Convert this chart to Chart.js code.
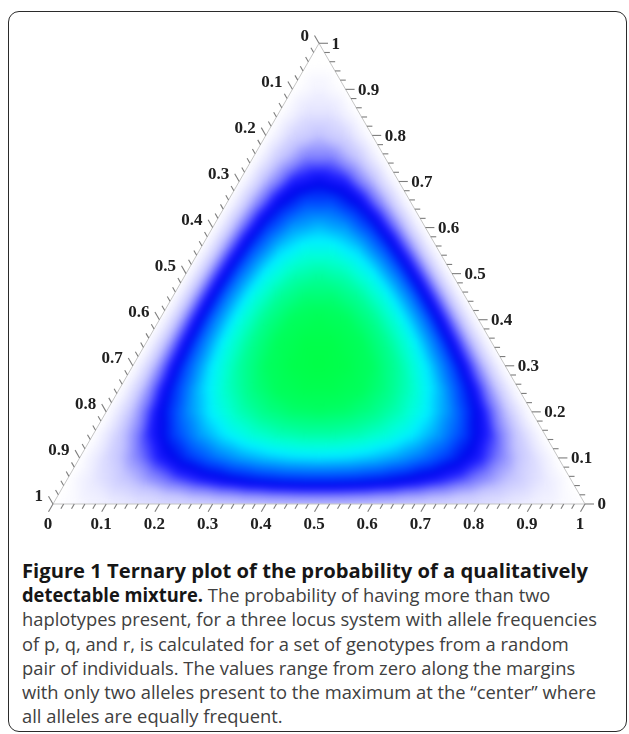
<!DOCTYPE html>
<html>
<head>
<meta charset="utf-8">
<script src="https://cdn.jsdelivr.net/npm/chart.js@4.4.1/dist/chart.umd.min.js"></script>
<style>
  html, body { margin: 0; padding: 0; background: #fff; width: 629px; height: 734px; overflow: hidden; }
  #frame { position: absolute; left: 8px; top: 11px; width: 617px; height: 719px;
           border: 1.6px solid #2b2b2b; border-radius: 11px; }
  #plot { position: absolute; left: 0; top: 0; width: 629px; height: 545px; }
  #caption { position: absolute; left: 22px; top: 559px; font-family: "Open Sans", sans-serif;
             font-size: 19px; line-height: 24.2px; color: #404040; }
  #caption .ln { display: block; white-space: nowrap; }
  #caption .ln span.t { display: inline-block; transform-origin: 0 50%; }
  #caption b { color: #161616; font-weight: 700; }
</style>
</head>
<body>
<div id="frame"></div>
<div id="plot"><canvas id="chart" width="629" height="545"></canvas></div>
<div id="caption">
  <div class="ln" id="headLine"><span class="t"><b>Figure 1 Ternary plot of the probability of a qualitatively</b></span></div>
  <div class="ln"><span class="t"><b>detectable mixture.</b> The probability of having more than two</span></div>
  <div class="ln" id="refLine"><span class="t">haplotypes present, for a three locus system with allele frequencies</span></div>
  <div class="ln"><span class="t">of p, q, and r, is calculated for a set of genotypes from a random</span></div>
  <div class="ln"><span class="t">pair of individuals. The values range from zero along the margins</span></div>
  <div class="ln"><span class="t">with only two alleles present to the maximum at the “center” where</span></div>
  <div class="ln"><span class="t">all alleles are equally frequent.</span></div>
</div>
<script>
// Probability of a detectable mixture on a ternary lattice (step 0.05).
// Row index = right-axis coordinate (0 at the base, 1 at the apex),
// position in row = bottom-axis coordinate (0 at the left side).
const STEPS = 20;
const row00 = [0,0.017,0.032,0.046,0.058,0.068,0.076,0.082,0.086,0.089,0.090,0.089,0.086,0.082,0.076,0.068,0.058,0.046,0.032,0.017,0];
const row01 = [0,0.041,0.077,0.108,0.136,0.158,0.176,0.190,0.199,0.203,0.203,0.199,0.190,0.176,0.158,0.136,0.108,0.077,0.041,0];
const row02 = [0,0.062,0.116,0.163,0.203,0.235,0.261,0.279,0.290,0.293,0.290,0.279,0.261,0.235,0.203,0.163,0.116,0.062,0];
const row03 = [0,0.080,0.150,0.209,0.259,0.299,0.329,0.349,0.359,0.359,0.349,0.329,0.299,0.259,0.209,0.150,0.080,0];
const row04 = [0,0.095,0.178,0.247,0.304,0.349,0.381,0.400,0.406,0.400,0.381,0.349,0.304,0.247,0.178,0.095,0];
const row05 = [0,0.108,0.200,0.277,0.339,0.385,0.416,0.431,0.431,0.416,0.385,0.339,0.277,0.200,0.108,0];
const row06 = [0,0.118,0.218,0.299,0.363,0.408,0.435,0.444,0.435,0.408,0.363,0.299,0.218,0.118,0];
const row07 = [0,0.125,0.229,0.313,0.375,0.417,0.438,0.438,0.417,0.375,0.313,0.229,0.125,0];
const row08 = [0,0.130,0.236,0.318,0.377,0.412,0.424,0.412,0.377,0.318,0.236,0.130,0];
const row09 = [0,0.132,0.237,0.316,0.368,0.394,0.394,0.368,0.316,0.237,0.132,0];
const row10 = [0,0.131,0.232,0.305,0.348,0.363,0.348,0.305,0.232,0.131,0];
const row11 = [0,0.127,0.222,0.286,0.317,0.317,0.286,0.222,0.127,0];
const row12 = [0,0.121,0.207,0.258,0.276,0.258,0.207,0.121,0];
const row13 = [0,0.112,0.186,0.223,0.223,0.186,0.112,0];
const row14 = [0,0.100,0.160,0.179,0.160,0.100,0];
const row15 = [0,0.085,0.128,0.128,0.085,0];
const row16 = [0,0.068,0.091,0.068,0];
const row17 = [0,0.048,0.048,0];
const row18 = [0,0.025,0];
const row19 = [0,0];
const row20 = [0];
const fieldRows = [row00,row01,row02,row03,row04,row05,row06,row07,row08,row09,row10,
                   row11,row12,row13,row14,row15,row16,row17,row18,row19,row20];

// Axis tick labels (shared by the three sides)
const tickValues = [0,0.1,0.2,0.3,0.4,0.5,0.6,0.7,0.8,0.9,1];
const tickLabels = ['0','0.1','0.2','0.3','0.4','0.5','0.6','0.7','0.8','0.9','1'];

const SQ = Math.sqrt(3) / 2;

// Colour ramp: white -> lavender -> blue -> azure -> cyan -> green
const ramp = [
  [0.000, [255,255,255]],
  [0.040, [234,234,255]],
  [0.090, [196,196,255]],
  [0.130, [120,120,255]],
  [0.160, [ 30, 30,255]],
  [0.185, [  0,  8,238]],
  [0.220, [  0, 75,255]],
  [0.265, [  0,165,255]],
  [0.300, [  0,240,255]],
  [0.330, [  0,255,215]],
  [0.370, [  0,255,150]],
  [0.410, [  0,255, 95]],
  [0.445, [  0,255, 70]]
];
function rampRGB(v) {
  if (v <= ramp[0][0]) return ramp[0][1];
  for (let i = 1; i < ramp.length; i++) {
    if (v <= ramp[i][0]) {
      const [v0, c0] = ramp[i-1], [v1, c1] = ramp[i];
      const f = (v - v0) / (v1 - v0);
      return c0.map((a, k) => Math.round(a + (c1[k] - a) * f));
    }
  }
  return ramp[ramp.length-1][1];
}
const colourFor = v => { const c = rampRGB(v); return `rgb(${c[0]},${c[1]},${c[2]})`; };

// Lattice points in cartesian ternary coordinates; rowStart gives each row's first index
const fieldPoints = [];
const rowStart = [];
fieldRows.forEach((row, R) => {
  rowStart.push(fieldPoints.length);
  row.forEach((v, B) => {
    const b = B / STEPS, r = R / STEPS;
    fieldPoints.push({ x: b + r / 2, y: r * SQ, v });
  });
});

// Pixel geometry: base from x=53 to x=585 at y=504
const UNIT = 532, W = 629, H = 545, X0 = 53, Y0 = 504;

function trianglePath(ctx, sx, sy) {
  ctx.beginPath();
  ctx.moveTo(sx.getPixelForValue(0), sy.getPixelForValue(0));
  ctx.lineTo(sx.getPixelForValue(1), sy.getPixelForValue(0));
  ctx.lineTo(sx.getPixelForValue(0.5), sy.getPixelForValue(SQ));
  ctx.closePath();
}

// Shade one lattice cell: the value is taken as linear across the cell
function shadeCell(ctx, pts) {
  const [p0, p1, p2] = pts;
  const e1x = p1.x - p0.x, e1y = p1.y - p0.y, e2x = p2.x - p0.x, e2y = p2.y - p0.y;
  const d1 = p1.v - p0.v, d2 = p2.v - p0.v;
  const det = e1x * e2y - e1y * e2x;
  const gx = (d1 * e2y - d2 * e1y) / det;
  const gy = (e1x * d2 - e2x * d1) / det;
  const g2 = gx * gx + gy * gy;
  let style;
  if (g2 < 1e-12) {
    style = colourFor(p0.v);
  } else {
    const lo = pts.reduce((a, p) => (p.v < a.v ? p : a));
    const hi = pts.reduce((a, p) => (p.v > a.v ? p : a));
    const span = hi.v - lo.v;
    const grad = ctx.createLinearGradient(lo.x, lo.y, lo.x + gx * span / g2, lo.y + gy * span / g2);
    const n = 10;
    for (let k = 0; k <= n; k++) grad.addColorStop(k / n, colourFor(lo.v + span * k / n));
    style = grad;
  }
  ctx.beginPath();
  ctx.moveTo(p0.x, p0.y); ctx.lineTo(p1.x, p1.y); ctx.lineTo(p2.x, p2.y); ctx.closePath();
  ctx.fillStyle = style; ctx.strokeStyle = style;
  ctx.fill(); ctx.stroke();
}

const ternaryPlugin = {
  id: 'ternary',
  afterDatasetsDraw(chart) {
    const { ctx, canvas } = chart;
    const sx = chart.scales.x, sy = chart.scales.y;
    const els = chart.getDatasetMeta(0).data;
    const node = (R, B) => { const i = rowStart[R] + B; return { x: els[i].x, y: els[i].y, v: fieldPoints[i].v }; };
    ctx.save();
    trianglePath(ctx, sx, sy);
    ctx.clip();
    ctx.lineWidth = 1;
    ctx.lineJoin = 'round';
    for (let R = 0; R < STEPS; R++) {
      const n = STEPS - R;
      for (let B = 0; B < n; B++) {
        shadeCell(ctx, [node(R, B), node(R, B + 1), node(R + 1, B)]);
        if (B < n - 1) shadeCell(ctx, [node(R, B + 1), node(R + 1, B + 1), node(R + 1, B)]);
      }
    }
    ctx.restore();
    // soften the cell seams
    const tmp = document.createElement('canvas');
    tmp.width = canvas.width; tmp.height = canvas.height;
    tmp.getContext('2d').drawImage(canvas, 0, 0);
    ctx.save();
    ctx.clearRect(0, 0, canvas.width, canvas.height);
    trianglePath(ctx, sx, sy);
    ctx.clip();
    ctx.drawImage(tmp, 0, 0);
    ctx.filter = 'blur(3px)';
    ctx.drawImage(tmp, 0, 0);
    ctx.restore();
  },
  afterDraw(chart) {
    const { ctx } = chart;
    const sx = chart.scales.x, sy = chart.scales.y;
    const P = (b, r) => [sx.getPixelForValue(b + r / 2), sy.getPixelForValue(r * SQ)];
    ctx.save();
    // edges
    ctx.strokeStyle = '#c4c4c4';
    ctx.lineWidth = 1;
    trianglePath(ctx, sx, sy);
    ctx.stroke();
    // ticks every 0.02, longer every 0.1
    ctx.strokeStyle = '#7d7d7d';
    ctx.lineWidth = 1.1;
    const seg = (x1, y1, x2, y2) => { ctx.beginPath(); ctx.moveTo(x1, y1); ctx.lineTo(x2, y2); ctx.stroke(); };
    for (let i = 0; i <= 50; i++) {
      const t = i / 50, len = (i % 5 === 0) ? 9 : 5.5;
      let [px, py] = P(t, 0);
      seg(px, py, px - 0.5 * len, py + SQ * len);          // bottom side
      [px, py] = P(0, 1 - t);
      seg(px, py, px - 0.5 * len, py - SQ * len);          // left side
      [px, py] = P(1 - t, t);
      seg(px, py, px + len, py);                           // right side
    }
    // labels
    ctx.fillStyle = '#202020';
    ctx.font = 'bold 17px "Liberation Serif", "Times New Roman", serif';
    ctx.textBaseline = 'middle';
    tickValues.forEach((t, i) => {
      const s = tickLabels[i];
      let [px, py] = P(t, 0);
      ctx.textAlign = 'center';
      ctx.fillText(s, px - 5, py + 21);
      [px, py] = P(0, 1 - t);
      ctx.textAlign = 'right';
      ctx.fillText(s, px - 10, py - 7);
      [px, py] = P(1 - t, t);
      ctx.textAlign = 'left';
      ctx.fillText(s, px + 12.5, py + 1);
    });
    ctx.restore();
  }
};

new Chart(document.getElementById('chart'), {
  type: 'scatter',
  data: {
    datasets: [{
      data: fieldPoints,
      pointRadius: 0,
      pointHoverRadius: 0,
      pointBackgroundColor: (c) => colourFor(c.raw ? c.raw.v : 0)
    }]
  },
  options: {
    responsive: false,
    animation: false,
    events: [],
    layout: { padding: 0 },
    plugins: { legend: { display: false }, tooltip: { enabled: false } },
    scales: {
      x: { type: 'linear', display: false, min: -X0 / UNIT, max: (W - X0) / UNIT },
      y: { type: 'linear', display: false, min: -(H - Y0) / UNIT, max: Y0 / UNIT }
    }
  },
  plugins: [ternaryPlugin]
});

// caption: the body lines share one horizontal scale, the bold heading has its own
function fitCaption() {
  const widthOf = el => el.querySelector('.t').getBoundingClientRect().width;
  const bodyScale = 575 / widthOf(document.getElementById('refLine'));
  const head = document.getElementById('headLine');
  const headScale = 566 / widthOf(head);
  document.querySelectorAll('#caption .ln').forEach(line => {
    const s = line === head ? headScale : bodyScale;
    line.querySelector('.t').style.transform = `scaleX(${s})`;
  });
}
fitCaption();
</script>
</body>
</html>
